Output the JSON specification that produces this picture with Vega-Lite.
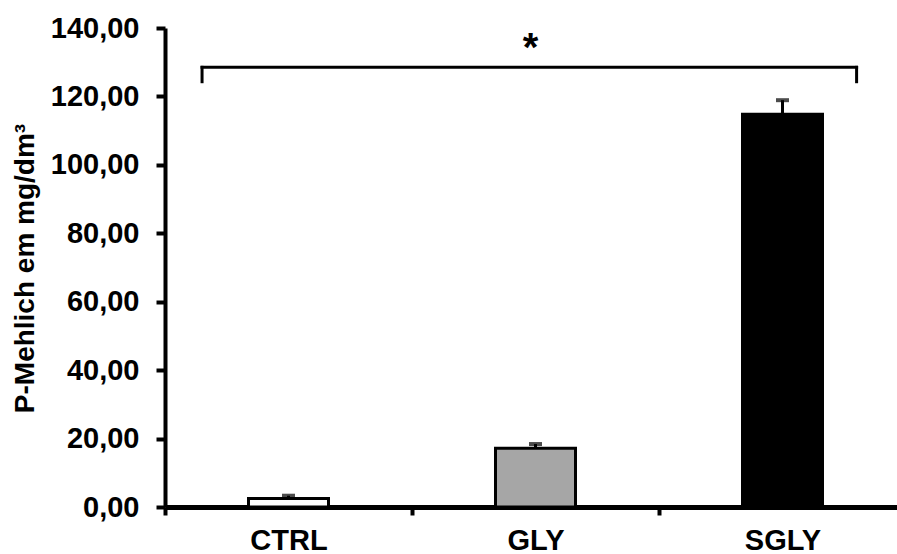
{
  "$schema": "https://vega.github.io/schema/vega-lite/v6.json",
  "width": 741,
  "height": 479,
  "autosize": "none",
  "padding": {"left": 165, "top": 28, "right": 0, "bottom": 47},
  "background": "white",
  "config": {
    "view": {"stroke": null},
    "font": "Liberation Sans",
    "locale": {"number": {"decimal": ",", "thousands": ".", "grouping": [3], "currency": ["", ""]}}
  },
  "datasets": {
    "bars": [
      {"group": "CTRL", "value": 2.5, "upper": 3.3},
      {"group": "GLY", "value": 17.2, "upper": 18.4},
      {"group": "SGLY", "value": 114.8, "upper": 118.9}
    ],
    "bracket": [{"from": "CTRL", "to": "SGLY", "top": 128.5, "bottom": 124.3}],
    "star": [{"group": "GLY", "label": "*", "pos": 130.5}]
  },
  "layer": [
    {
      "data": {"name": "bars"},
      "mark": {"type": "bar", "size": 80, "stroke": "black", "strokeWidth": 3},
      "encoding": {
        "x": {
          "field": "group", "type": "nominal",
          "scale": {"domain": ["CTRL", "GLY", "SGLY"], "paddingInner": 0, "paddingOuter": 0},
          "axis": {
            "title": null, "labelAngle": 0, "tickBand": "extent",
            "domainColor": "black", "domainWidth": 5, "tickColor": "black", "tickWidth": 4, "tickSize": 8,
            "labelFontSize": 29, "labelFontWeight": "bold", "labelColor": "black", "labelPadding": 11, "labelBaseline": "top"
          }
        },
        "y": {
          "field": "value", "type": "quantitative",
          "scale": {"domain": [0, 140], "nice": false, "zero": true},
          "axis": {
            "values": [0, 20, 40, 60, 80, 100, 120, 140], "format": ".2f", "grid": false,
            "domainColor": "black", "domainWidth": 4, "tickColor": "black", "tickWidth": 4, "tickSize": 9,
            "labelFontSize": 29, "labelFontWeight": "bold", "labelColor": "black", "labelPadding": 17,
            "title": "P-Mehlich em mg/dm³", "titleFontSize": 28, "titleFontWeight": "bold", "titleColor": "black",
            "titleX": -132, "titleY": 240, "titleBaseline": "alphabetic", "titleAngle": -90
          }
        },
        "color": {
          "field": "group", "type": "nominal",
          "scale": {"domain": ["CTRL", "GLY", "SGLY"], "range": ["#ffffff", "#a6a6a6", "#000000"]},
          "legend": null
        }
      }
    },
    {
      "data": {"name": "bars"},
      "mark": {"type": "rule", "color": "black", "strokeWidth": 3},
      "encoding": {
        "x": {"field": "group", "type": "nominal"},
        "y": {"field": "value", "type": "quantitative"},
        "y2": {"field": "upper"}
      }
    },
    {
      "data": {"name": "bars"},
      "mark": {"type": "tick", "color": "black", "size": 13, "thickness": 4, "orient": "horizontal"},
      "encoding": {
        "x": {"field": "group", "type": "nominal"},
        "y": {"field": "upper", "type": "quantitative"}
      }
    },
    {
      "data": {"name": "bracket"},
      "mark": {"type": "rule", "color": "black", "strokeWidth": 3, "strokeCap": "square"},
      "encoding": {
        "x": {"field": "from", "type": "nominal", "bandPosition": 0.15},
        "x2": {"field": "to", "bandPosition": 0.8},
        "y": {"field": "top", "type": "quantitative"}
      }
    },
    {
      "data": {"name": "bracket"},
      "mark": {"type": "rule", "color": "black", "strokeWidth": 3, "strokeCap": "square"},
      "encoding": {
        "x": {"field": "from", "type": "nominal", "bandPosition": 0.15},
        "y": {"field": "top", "type": "quantitative"},
        "y2": {"field": "bottom"}
      }
    },
    {
      "data": {"name": "bracket"},
      "mark": {"type": "rule", "color": "black", "strokeWidth": 3, "strokeCap": "square"},
      "encoding": {
        "x": {"field": "to", "type": "nominal", "bandPosition": 0.8},
        "y": {"field": "top", "type": "quantitative"},
        "y2": {"field": "bottom"}
      }
    },
    {
      "data": {"name": "star"},
      "mark": {"type": "text", "fontSize": 40, "fontWeight": "bold", "color": "black", "baseline": "alphabetic", "align": "center"},
      "encoding": {
        "x": {"field": "group", "type": "nominal", "bandPosition": 0.48},
        "y": {"field": "pos", "type": "quantitative"},
        "text": {"field": "label"}
      }
    }
  ]
}
